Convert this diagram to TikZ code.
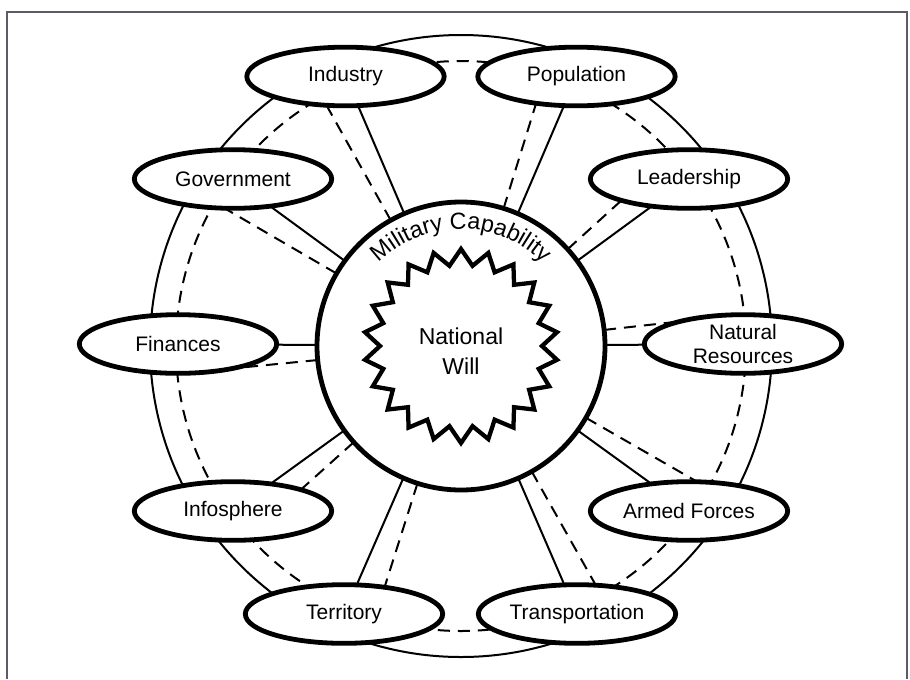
\documentclass[tikz,border=0pt]{standalone}
\usepackage{fontspec}
\setmainfont{Liberation Sans}
\usetikzlibrary{shapes.geometric,calc,backgrounds,decorations.text}
\definecolor{framegray}{RGB}{95,90,105}
\begin{document}
\begin{tikzpicture}[x=0.75pt,y=0.75pt,
  factor/.style={ellipse, draw, line width=3.6pt, fill=white, minimum width=148pt, minimum height=44pt, inner sep=0pt, align=center, font=\fontsize{15.75}{18}\selectfont},
  ringline/.style={line width=1.5pt},
  dashring/.style={line width=1.5pt, dash pattern=on 9pt off 6pt},
  spoke/.style={line width=1.5pt},
  dspoke/.style={line width=1.5pt, dash pattern=on 9pt off 6pt},
  core/.style={circle, draw, line width=3.6pt, fill=white, minimum size=216pt, inner sep=0pt},
  framestyle/.style={line width=0.8pt, draw=framegray}
]
\useasboundingbox (0,0) rectangle (910,-679);
\coordinate (C) at (461,-346);

% central circle
\node[core] (mc) at (C) {};
% star
\begin{scope}[shift={(C)}]
  \draw[line width=3.2pt, line join=miter, fill=white] plot[samples at={0,...,43}] ({90+\x*360/44}:{ifthenelse(mod(\x,2)==0,97,81)}) -- cycle;
\end{scope}
\node[align=center, font=\fontsize{17.25}{22.5}\selectfont] (nw) at (461,-351) {National\\Will};
\path[decorate, decoration={text along path, text={|\fontsize{17.5}{20}\selectfont|Military Capability}, text align=center}]
  ($(C)+(150:87.75pt)$) arc[start angle=150, end angle=30, radius=87.75pt];

% factors
\node[factor] (ind)   at (345.5,-76.5) {Industry};
\node[factor] (pop)   at (576.5,-76.5) {Population};
\node[factor] (lead)  at (689,-179) {Leadership};
\node[factor] (nat)   at (743,-344) {Natural\\Resources};
\node[factor] (arm)   at (689,-511) {Armed Forces};
\node[factor] (trans) at (577,-614) {Transportation};
\node[factor] (terr)  at (344,-614) {Territory};
\node[factor] (info)  at (233,-511) {Infosphere};
\node[factor] (fin)   at (178,-344) {Finances};
\node[factor] (gov)   at (233,-179) {Government};

\begin{pgfonlayer}{background}
  \fill[white] (0,0) rectangle (910,-679);
  \draw[framestyle] (7,-679) -- (7,-12) -- (907,-12) -- (907,-679);
  \draw[ringline] (C) circle[radius=233.25pt];
  \draw[dashring] (C) circle[radius=213.75pt];
  \foreach \n in {ind,pop,lead,nat,arm,trans,terr,info,fin,gov}{
    \draw[spoke] ($(C)!108pt!(\n.center)$) -- (\n.center);
    \draw[dspoke] ($(C)!108pt!6:(\n.center)$) -- ($(C)!1!6:(\n.center)$);
  }
\end{pgfonlayer}
\end{tikzpicture}
\end{document}
